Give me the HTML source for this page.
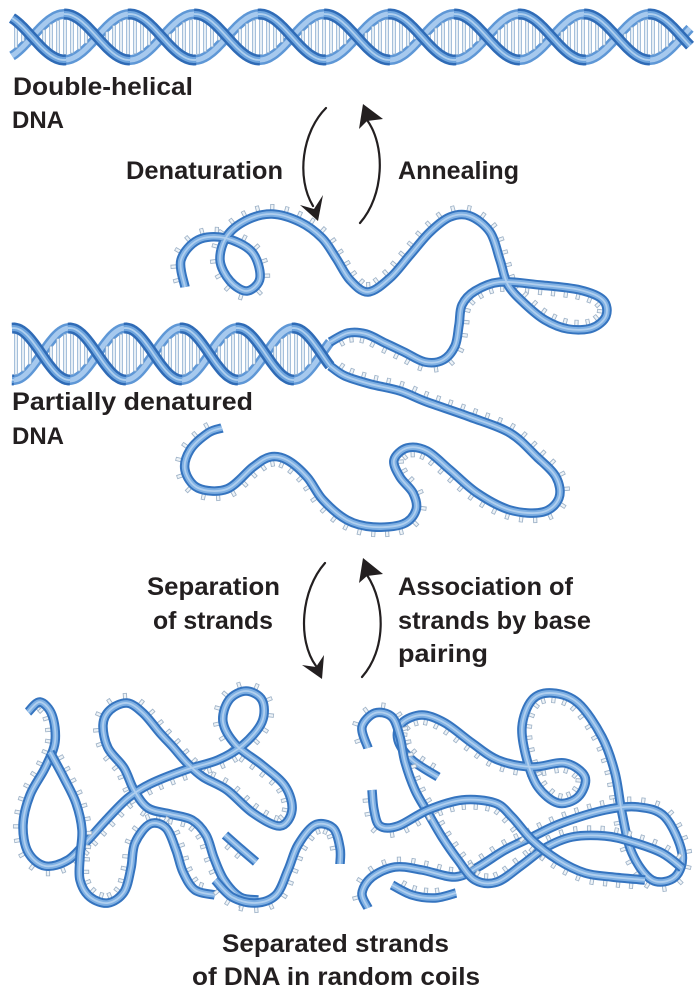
<!DOCTYPE html>
<html><head><meta charset="utf-8"><style>
html,body{margin:0;padding:0;background:#fff;}
svg{display:block;}
</style></head><body>
<svg id="s" width="695" height="992" viewBox="0 0 695 992" xmlns="http://www.w3.org/2000/svg">
<rect width="695" height="992" fill="#fff"/>
<g id="art"></g>
<g font-family="'Liberation Sans', Arial, sans-serif" font-weight="bold" font-size="25" fill="#231f20">
<text x="13" y="95" textLength="180" lengthAdjust="spacingAndGlyphs">Double-helical</text>
<text x="12" y="128" font-size="24">DNA</text>
<text x="126" y="179" textLength="157" lengthAdjust="spacingAndGlyphs">Denaturation</text>
<text x="398" y="179" textLength="121" lengthAdjust="spacingAndGlyphs">Annealing</text>
<text x="12" y="410" textLength="241" lengthAdjust="spacingAndGlyphs">Partially denatured</text>
<text x="12" y="444" font-size="24">DNA</text>
<text x="147" y="595" textLength="133" lengthAdjust="spacingAndGlyphs">Separation</text>
<text x="153" y="629" textLength="120" lengthAdjust="spacingAndGlyphs">of strands</text>
<text x="398" y="595" textLength="175" lengthAdjust="spacingAndGlyphs">Association of</text>
<text x="398" y="629" textLength="193" lengthAdjust="spacingAndGlyphs">strands by base</text>
<text x="398" y="662" textLength="90" lengthAdjust="spacingAndGlyphs">pairing</text>
<text x="222" y="952" textLength="227" lengthAdjust="spacingAndGlyphs">Separated strands</text>
<text x="192" y="985" textLength="288" lengthAdjust="spacingAndGlyphs">of DNA in random coils</text>
</g>
<g fill="none" stroke="#231f20" stroke-width="2.2" stroke-linecap="round">
<path d="M326,108 C302,132 296,178 313,206"/>
<path d="M360,223 C384,196 386,146 367,120"/>
<path d="M325,563 C301,590 297,640 316,666"/>
<path d="M362,677 C386,650 386,604 367,575"/>
</g>
<g fill="#231f20">
<polygon points="318,221 300,205 314,209 323,195"/>
<polygon points="363,104 359,129 367,121 383,119"/>
<polygon points="322,679 302,665 316,667 324,655"/>
<polygon points="363,558 359,583 367,576 383,574"/>
</g>
</svg>
<script>
(function(){
const NS="http://www.w3.org/2000/svg";
const art=document.getElementById('art');
function el(tag,attrs,parent){const e=document.createElementNS(NS,tag);for(const k in attrs)e.setAttribute(k,attrs[k]);(parent||art).appendChild(e);return e;}
function smooth(p){
  let d="M"+p[0][0]+","+p[0][1];
  for(let i=0;i<p.length-1;i++){
    const p0=p[i-1]||p[i],p1=p[i],p2=p[i+1],p3=p[i+2]||p2;
    const c1=[p1[0]+(p2[0]-p0[0])/6,p1[1]+(p2[1]-p0[1])/6];
    const c2=[p2[0]-(p3[0]-p1[0])/6,p2[1]-(p3[1]-p1[1])/6];
    d+=" C"+c1[0].toFixed(1)+","+c1[1].toFixed(1)+" "+c2[0].toFixed(1)+","+c2[1].toFixed(1)+" "+p2[0]+","+p2[1];
  }
  return d;
}
function ribbon(pts,side,parent){
  const d=smooth(pts);
  const g=el('g',{},parent);
  const tg=el('g',{},g);
  const probe=el('path',{d:d,fill:'none',stroke:'#3574bf','stroke-width':9.5,'stroke-linecap':'butt','stroke-linejoin':'round'},g);
  el('path',{d:d,fill:'none',stroke:'#7fb0e3','stroke-width':5.5,'stroke-linecap':'butt','stroke-linejoin':'round'},g);
  el('path',{d:d,fill:'none',stroke:'#b8d5f1','stroke-width':1.8,'stroke-opacity':0.85,'stroke-linecap':'butt'},g);
  const L=probe.getTotalLength();
  for(let s=10;s<L-8;s+=13){
    const a=probe.getPointAtLength(s),b=probe.getPointAtLength(s+1);
    let tx=b.x-a.x,ty=b.y-a.y;const m=Math.hypot(tx,ty)||1;tx/=m;ty/=m;
    const nx=-ty*side,ny=tx*side;
    const x1=a.x+nx*4,y1=a.y+ny*4,x2=a.x+nx*10,y2=a.y+ny*10;
    el('line',{x1:x1,y1:y1,x2:x2,y2:y2,stroke:'#9fb3c8','stroke-width':4.2,'stroke-linecap':'butt'},tg);
    el('line',{x1:x1,y1:y1,x2:x2-nx*0.8,y2:y2-ny*0.8,stroke:'#eef3f7','stroke-width':2.4,'stroke-linecap':'butt'},tg);
  }
}
function poly(p){return "M"+p.map(q=>q[0].toFixed(1)+","+q[1].toFixed(1)).join(" L");}
function helix(x0,x1,cy,A,P,ph){
  const f=(x,s)=>cy-s*A*Math.sin(2*Math.PI*(x-ph)/P);
  const g=el('g',{});
  [1,-1].forEach(s=>{
    const pts=[];for(let x=x0;x<=x1+0.01;x+=2)pts.push([x,f(x,s)]);
    const d=poly(pts);
    el('path',{d:d,fill:'none',stroke:'#5e97d6','stroke-width':10,'stroke-linecap':'butt','stroke-linejoin':'round'},g);
    el('path',{d:d,fill:'none',stroke:'#a6c9ee','stroke-width':5,'stroke-linecap':'butt','stroke-linejoin':'round'},g);
  });
  for(let x=x0+4;x<x1-2;x+=7){
    const a=f(x,1),b=f(x,-1);
    if(Math.abs(a-b)>13){
      const lo=Math.min(a,b)+5,hi=Math.max(a,b)-5;
      el('line',{x1:x,y1:lo,x2:x,y2:hi,stroke:'#8fb0d2','stroke-width':3.6},g);
      el('line',{x1:x,y1:lo+0.8,x2:x,y2:hi-0.8,stroke:'#e6eef5','stroke-width':2},g);
    }
  }
  [1,-1].forEach(s=>{
    let cur=null;const segs=[];
    for(let x=x0;x<=x1+0.01;x+=2){
      const y=f(x,s),dy=f(x+0.5,s)-y;
      if(dy>0){if(!cur){cur=[];segs.push(cur);if(x>x0)cur.push([x-2,f(x-2,s)]);}cur.push([x,y]);}
      else{if(cur){cur.push([x,y]);}cur=null;}
    }
    segs.forEach(p=>{
      if(p.length<2)return;
      const d=poly(p);
      el('path',{d:d,fill:'none',stroke:'#2f6bb6','stroke-width':11,'stroke-linecap':'butt','stroke-linejoin':'round'},g);
      el('path',{d:d,fill:'none',stroke:'#6fa5de','stroke-width':6,'stroke-linecap':'butt','stroke-linejoin':'round'},g);
      el('path',{d:d,fill:'none',stroke:'#b0d0ef','stroke-width':1.8,'stroke-linecap':'butt'},g);
    });
  });
  return f;
}
helix(12,690,37,23,130,32);
const fp=helix(12,330,354,26,112,321.5);
const yA=fp(330,1),yB=fp(330,-1);
ribbon([[330,yA],[348,333],[366,334],[385,343],[404,352],[425,362],[443,360],[455,346],[459,325],[462,305],[475,291],[500,282],[540,285],[580,290],[603,300],[606,316],[592,328],[568,329],[545,320],[525,304],[508,285],[500,260],[490,232],[470,216],[450,217],[430,232],[410,255],[390,278],[368,292],[350,280],[336,258],[322,238],[300,222],[272,214],[247,220],[227,236],[220,260],[230,281],[247,291],[260,278],[252,252],[225,238],[198,240],[181,260],[185,287]],1);
ribbon([[330,yB],[345,376],[370,384],[400,391],[427,402],[470,417],[510,433],[537,457],[556,477],[559,498],[543,512],[510,510],[477,493],[450,470],[427,451],[407,448],[394,460],[400,477],[413,493],[416,510],[403,524],[373,527],[347,520],[323,500],[307,477],[287,460],[270,457],[253,467],[227,489],[198,488],[185,470],[190,450],[208,433],[222,428]],-1);
ribbon([[28,712],[40,702],[52,715],[55,742],[45,768],[30,795],[23,825],[28,852],[45,866],[68,860],[88,840],[108,818],[128,798],[150,784],[185,770],[218,760],[243,745],[262,722],[262,700],[246,691],[229,700],[223,722],[236,745],[262,765],[285,786],[292,810],[280,826],[253,813],[227,790],[203,777],[187,763],[173,747],[160,733],[143,713],[127,703],[110,710],[103,725],[108,748],[124,768],[134,790],[148,808],[170,814],[192,820],[206,835],[214,858],[224,880],[240,897],[258,900]],1);
ribbon([[50,752],[64,778],[76,803],[82,830],[80,857],[80,880],[90,897],[108,903],[124,892],[131,868],[135,843],[150,824],[166,828],[176,850],[183,872],[195,890],[215,895]],-1);
ribbon([[215,880],[232,897],[255,903],[276,895],[288,870],[298,845],[315,825],[333,828],[340,848],[340,864]],1);
ribbon([[225,835],[242,850],[256,862]],1);
ribbon([[438,777],[412,760],[398,740],[402,723],[422,715],[445,723],[472,743],[498,760],[532,767],[565,763],[585,777],[578,797],[558,803],[538,787],[527,760],[522,727],[532,700],[552,693],[578,703],[602,737],[615,773],[622,813],[632,853],[652,880],[675,877],[682,853],[665,817],[638,807],[605,810],[562,823],[532,837],[505,850],[478,867],[455,877],[422,870],[395,867],[372,877],[362,893],[368,908]],1);
ribbon([[368,748],[362,727],[375,713],[392,717],[400,737],[405,762],[415,790],[428,813],[442,837],[458,860],[475,880],[497,882],[522,865],[545,848],[572,837],[605,836],[632,842],[662,853],[682,868]],-1);
ribbon([[372,790],[374,810],[380,826],[398,826],[428,810],[462,800],[495,803],[512,817],[532,840],[558,860],[585,873],[612,877],[645,880]],1);
ribbon([[392,885],[412,895],[435,898],[456,893]],-1);
})();
</script>
</body></html>
